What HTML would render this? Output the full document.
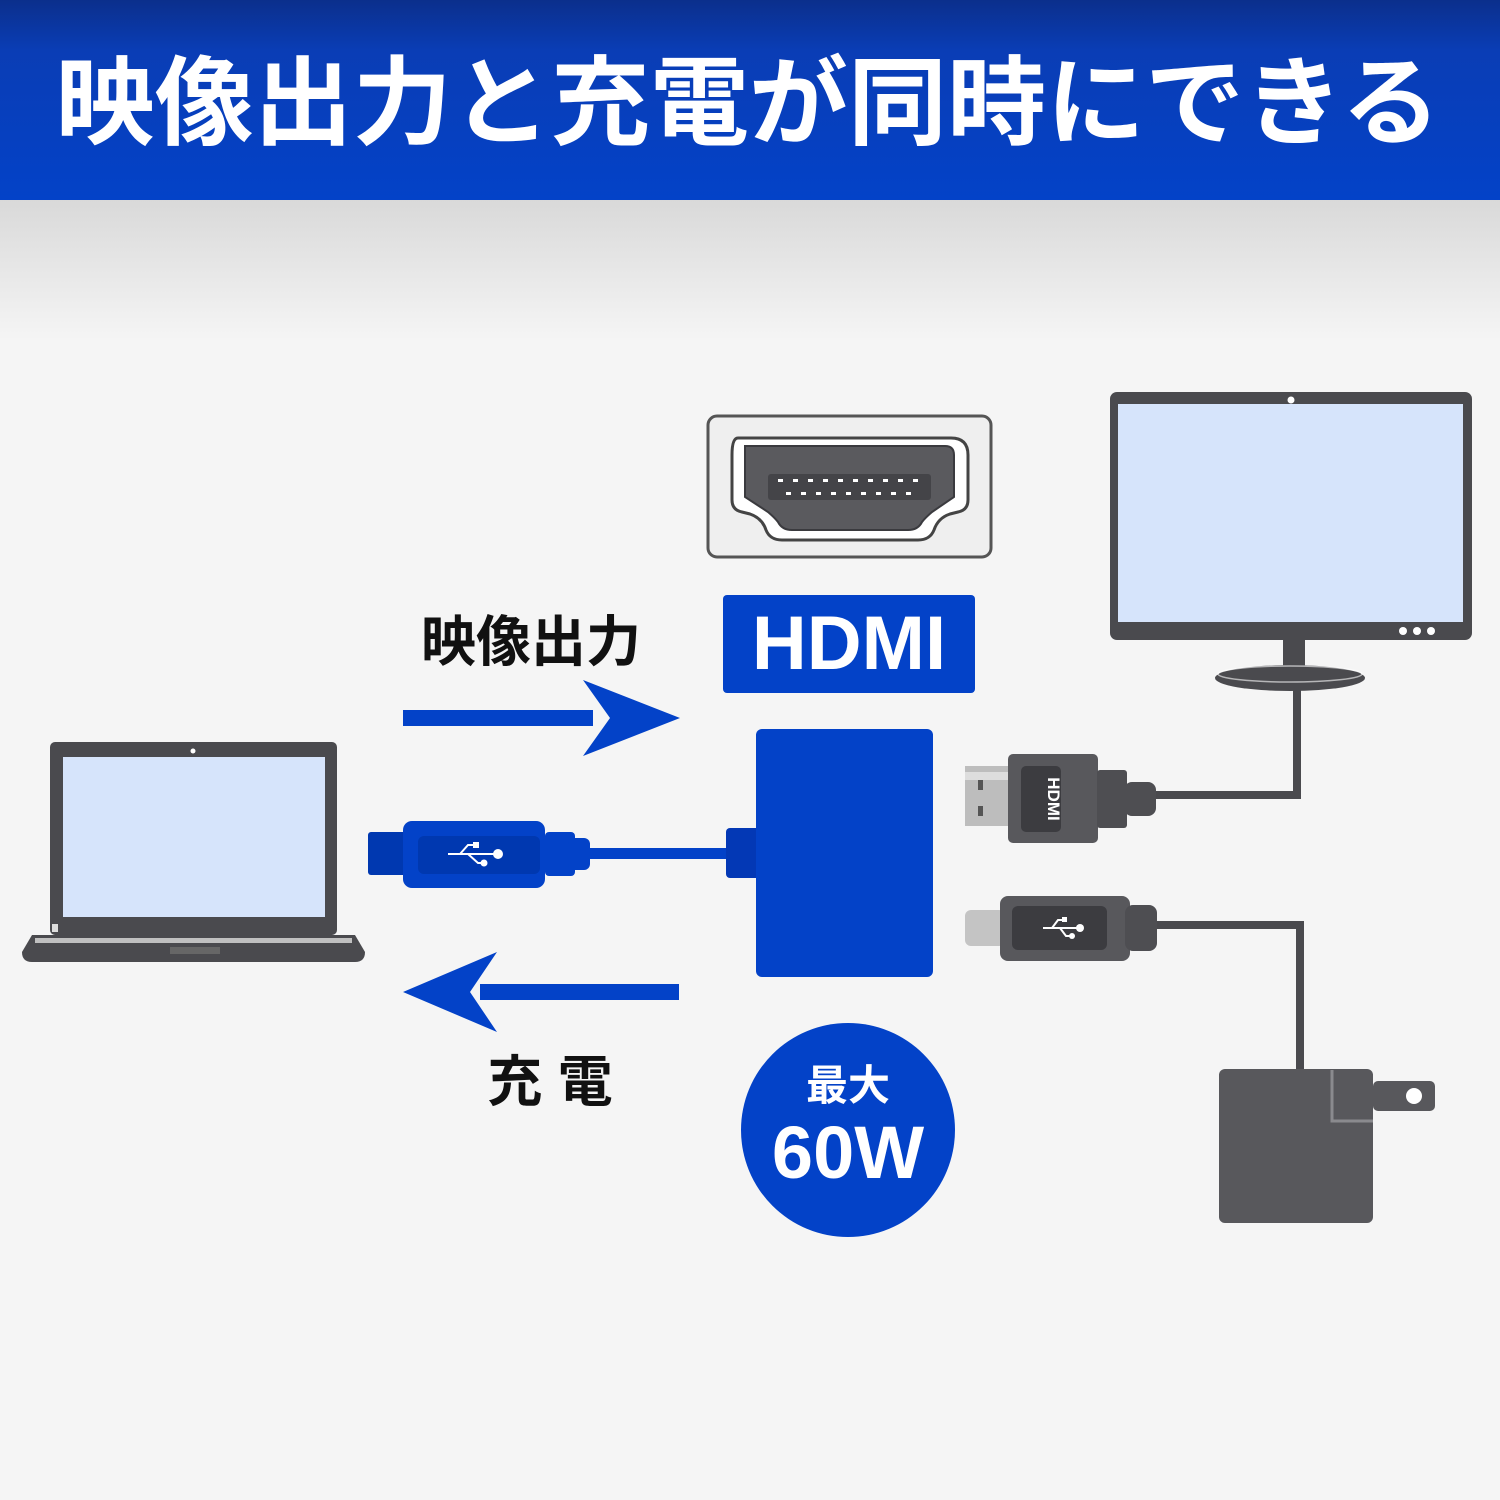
<!DOCTYPE html>
<html><head><meta charset="utf-8"><style>
html,body{margin:0;padding:0;width:1500px;height:1500px;overflow:hidden;background:#f5f5f5}
svg{display:block}
text{font-family:"Liberation Sans","Noto Sans CJK JP",sans-serif;font-weight:bold}
</style></head><body>
<svg width="1500" height="1500" viewBox="0 0 1500 1500" xmlns="http://www.w3.org/2000/svg">
<defs>
<linearGradient id="hdr" x1="0" y1="0" x2="0" y2="1">
<stop offset="0" stop-color="#0b2f8c"/><stop offset="0.25" stop-color="#0a3db5"/><stop offset="1" stop-color="#0342c8"/>
</linearGradient>
<linearGradient id="sh" x1="0" y1="0" x2="0" y2="1">
<stop offset="0" stop-color="#d9d9d9"/><stop offset="1" stop-color="#f5f5f5"/>
</linearGradient>
</defs>
<rect x="0" y="0" width="1500" height="1500" fill="#f5f5f5"/>
<rect x="0" y="200" width="1500" height="140" fill="url(#sh)"/>
<rect x="0" y="0" width="1500" height="200" fill="url(#hdr)"/>
<text x="748" y="137" font-size="97" fill="#fff" text-anchor="middle" textLength="1385" lengthAdjust="spacingAndGlyphs">映像出力と充電が同時にできる</text>

<!-- HDMI port -->
<rect x="708" y="416" width="283" height="141" rx="9" fill="#efefef" stroke="#555" stroke-width="3"/>
<path d="M738,438 H951 Q968,438 968,455 V500 Q968,510 958,512 L950,514 Q938,518 934,530 Q930,540 918,540 H782 Q770,540 766,530 Q762,518 750,514 L742,512 Q732,510 732,500 V455 Q732,438 738,438 Z" fill="#fff" stroke="#444" stroke-width="3"/>
<path d="M745,446 H945 Q954,446 954,455 V497 L932,512 Q925,518 922,522 Q918,530 908,530 H792 Q782,530 778,522 Q775,518 768,512 L745,497 Z" fill="#5a5a5e" stroke="#3a3a3e" stroke-width="2"/>
<rect x="768" y="474" width="163" height="26" rx="3" fill="#444448"/>
<g fill="#fff">
<rect x="778" y="479" width="5" height="3"/><rect x="793" y="479" width="5" height="3"/><rect x="808" y="479" width="5" height="3"/><rect x="823" y="479" width="5" height="3"/><rect x="838" y="479" width="5" height="3"/><rect x="853" y="479" width="5" height="3"/><rect x="868" y="479" width="5" height="3"/><rect x="883" y="479" width="5" height="3"/><rect x="898" y="479" width="5" height="3"/><rect x="913" y="479" width="5" height="3"/>
<rect x="786" y="492" width="5" height="3"/><rect x="801" y="492" width="5" height="3"/><rect x="816" y="492" width="5" height="3"/><rect x="831" y="492" width="5" height="3"/><rect x="846" y="492" width="5" height="3"/><rect x="861" y="492" width="5" height="3"/><rect x="876" y="492" width="5" height="3"/><rect x="891" y="492" width="5" height="3"/><rect x="906" y="492" width="5" height="3"/>
</g>

<!-- HDMI label -->
<rect x="723" y="595" width="252" height="98" rx="4" fill="#0342c8"/>
<text x="849" y="669" font-size="76" fill="#fff" text-anchor="middle">HDMI</text>

<!-- Monitor -->
<rect x="1110" y="392" width="362" height="248" rx="7" fill="#4a4a4e"/>
<rect x="1118" y="404" width="345" height="218" fill="#d6e4fb"/>
<circle cx="1291" cy="400" r="3.5" fill="#fff"/>
<circle cx="1403" cy="631" r="4" fill="#fff"/><circle cx="1417" cy="631" r="4" fill="#fff"/><circle cx="1431" cy="631" r="4" fill="#fff"/>
<rect x="1283" y="640" width="22" height="30" fill="#4a4a4e"/>
<ellipse cx="1290" cy="678" rx="75" ry="13" fill="#4a4a4e"/>
<ellipse cx="1290" cy="674" rx="72" ry="8" fill="#4a4a4e" stroke="#fff" stroke-width="1.5" opacity="0.6"/>
<path d="M1297,690 V795 H1150" fill="none" stroke="#4a4a4e" stroke-width="8"/>

<!-- HDMI plug -->
<rect x="965" y="766" width="46" height="60" fill="#bdbdbd"/>
<rect x="965" y="772" width="46" height="8" fill="#ddd"/>
<rect x="978" y="780" width="5" height="10" fill="#555"/><rect x="978" y="806" width="5" height="10" fill="#555"/>
<rect x="1008" y="754" width="90" height="89" rx="5" fill="#58585c"/>
<rect x="1021" y="766" width="40" height="66" rx="5" fill="#3c3c40"/>
<text x="0" y="0" font-size="17" fill="#fff" text-anchor="middle" transform="translate(1048,799) rotate(90)">HDMI</text>
<rect x="1097" y="770" width="30" height="58" rx="3" fill="#4e4e52"/>
<rect x="1124" y="782" width="32" height="34" rx="8" fill="#4e4e52"/>

<!-- USB-C plug (gray) -->
<rect x="965" y="910" width="40" height="36" rx="6" fill="#c4c4c4"/>
<rect x="1000" y="896" width="130" height="65" rx="8" fill="#58585c"/>
<rect x="1012" y="906" width="95" height="44" rx="6" fill="#3c3c40"/>
<rect x="1125" y="905" width="32" height="46" rx="8" fill="#4e4e52"/>
<g stroke="#fff" stroke-width="2" fill="none"><path d="M1043,928 H1080 M1052,928 L1058,920 H1064 M1060,928 L1066,936 H1072"/></g>
<circle cx="1080" cy="928" r="4" fill="#fff"/><rect x="1062" y="917" width="5" height="5" fill="#fff"/><circle cx="1072" cy="936" r="3" fill="#fff"/>
<path d="M1157,925 H1300 V1070" fill="none" stroke="#4a4a4e" stroke-width="8"/>

<!-- Charger -->
<rect x="1373" y="1081" width="62" height="30" rx="5" fill="#58585c"/>
<circle cx="1414" cy="1096" r="8" fill="#fff"/>
<rect x="1219" y="1069" width="154" height="154" rx="6" fill="#58585c"/>
<path d="M1332,1070 V1121 H1373" fill="none" stroke="#8a8a8e" stroke-width="3"/>

<!-- Laptop -->
<rect x="50" y="742" width="287" height="193" rx="5" fill="#4a4a4e"/>
<rect x="63" y="757" width="262" height="160" fill="#d6e4fb"/>
<circle cx="193" cy="751" r="2.5" fill="#fff"/>
<rect x="52" y="924" width="6" height="8" fill="#ddd"/>
<path d="M32,935 H355 L365,952 Q365,962 355,962 H32 Q22,962 22,952 Z" fill="#4a4a4e"/>
<rect x="35" y="938" width="317" height="5" fill="#ddd" opacity="0.8"/>
<rect x="170" y="947" width="50" height="7" fill="#666"/>

<!-- Blue USB plug & cable -->
<rect x="368" y="832" width="40" height="43" rx="3" fill="#0038b0"/>
<rect x="403" y="821" width="142" height="67" rx="9" fill="#0342c8"/>
<rect x="418" y="836" width="122" height="38" rx="6" fill="#0038b0"/>
<rect x="545" y="832" width="30" height="44" rx="4" fill="#0342c8"/>
<rect x="568" y="838" width="22" height="32" rx="6" fill="#0342c8"/>
<rect x="585" y="848" width="145" height="11" fill="#0342c8"/>
<g stroke="#fff" stroke-width="2" fill="none"><path d="M448,854 H498 M460,854 L468,845 H476 M468,854 L478,863 H486"/></g>
<circle cx="498" cy="854" r="5" fill="#fff"/><rect x="473" y="842" width="6" height="6" fill="#fff"/><circle cx="484" cy="863" r="3.5" fill="#fff"/>

<!-- Adapter -->
<rect x="726" y="828" width="35" height="50" rx="4" fill="#0338b5"/>
<rect x="756" y="729" width="177" height="248" rx="6" fill="#0342c8"/>

<!-- Arrows -->
<rect x="403" y="710" width="190" height="16" fill="#0342c8"/>
<path d="M583,680 L680,718 L583,756 L610,718 Z" fill="#0342c8"/>
<rect x="480" y="984" width="199" height="16" fill="#0342c8"/>
<path d="M497,952 L403,992 L497,1032 L470,992 Z" fill="#0342c8"/>

<text x="531" y="661" font-size="55" fill="#111" text-anchor="middle">映像出力</text>
<text x="550" y="1101" font-size="55" fill="#111" text-anchor="middle">充 電</text>

<!-- Badge -->
<circle cx="848" cy="1130" r="107" fill="#0342c8"/>
<text x="848" y="1100" font-size="42" fill="#fff" text-anchor="middle">最大</text>
<text x="848" y="1178" font-size="74" fill="#fff" text-anchor="middle">60W</text>
</svg>
</body></html>
